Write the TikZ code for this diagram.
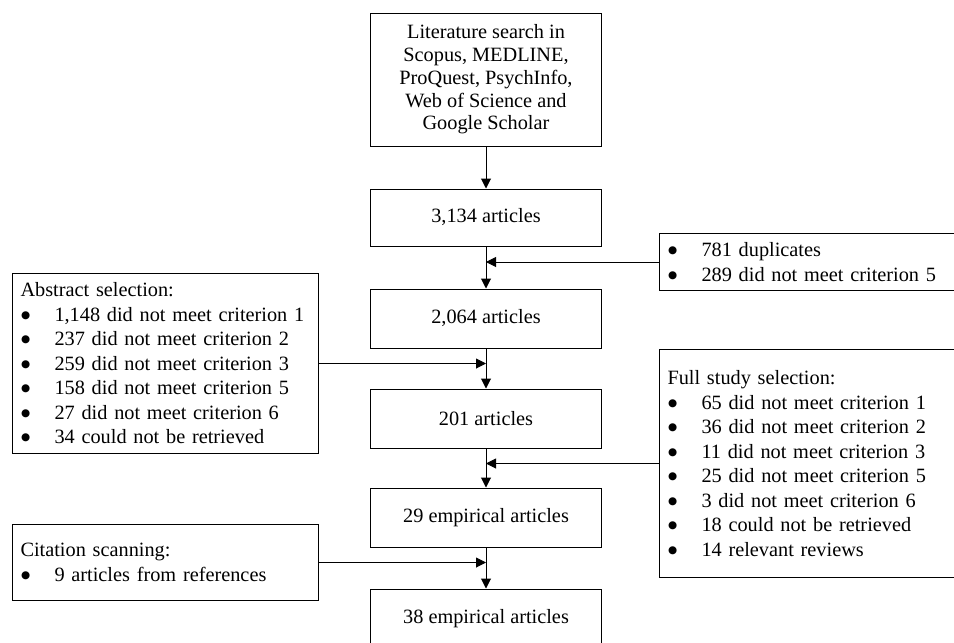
\documentclass[tikz,border=0pt]{standalone}
\usepackage{fontspec}
\setmainfont{Liberation Serif}
\newfontfamily\dotfont{DejaVu Sans}
\usetikzlibrary{arrows.meta,positioning}
\newcommand{\blt}[1]{\makebox[34pt][l]{\hspace{0.5pt}\raisebox{3pt}{\dotfont\fontsize{10.5}{10.5}\selectfont ●}}#1}

\begin{document}
\begin{tikzpicture}[x=1pt, y=-1pt,
    box/.style={draw, line width=1pt, minimum width=231pt, minimum height=58pt,
          align=center, inner sep=0pt, font=\fontsize{20.3}{24.5}\selectfont},
    side/.style={draw, line width=1pt, anchor=north west, align=left,
          inner xsep=8pt, inner ysep=0pt, font=\fontsize{20.3}{24.5}\selectfont},
    arr/.style={line width=1pt, -{Triangle[length=10pt,width=10pt]}}]
    \useasboundingbox (0,0) rectangle (954,643);
    \clip (0,0) rectangle (954,643);
    % main column
    \node[box, minimum height=133pt, font=\fontsize{20.3}{22.7}\selectfont] (search) at (486,79.5)
         {Literature search in\\ Scopus, MEDLINE,\\ ProQuest, PsychInfo,\\ Web of Science and\\ Google Scholar};
    \node[box, minimum height=57pt] (n3134) at (486,217.5) {3,134 articles};
    \node[box, minimum height=59pt] (n2064) at (486,318.5) {2,064 articles};
    \node[box, minimum height=59pt] (n201) at (486,418.5) {201 articles};
    \node[box, minimum height=59pt] (n29) at (486,517.5) {29 empirical articles};
    \node[box, minimum height=59pt] (n38) at (486,618.5) {38 empirical articles};
    % exclusions
    \node[side, text width=294pt, minimum height=57pt] (dup) at (659,233)
         {\blt{781 duplicates}\\ \blt{289 did not meet criterion 5}};
    \node[side, text width=290pt, minimum height=180pt] (abstr) at (12,273)
         {Abstract selection:\\ \blt{1,148 did not meet criterion 1}\\ \blt{237 did not meet criterion 2}\\
          \blt{259 did not meet criterion 3}\\ \blt{158 did not meet criterion 5}\\
          \blt{27 did not meet criterion 6}\\ \blt{34 could not be retrieved}};
    \node[side, text width=294pt, minimum height=228pt] (full) at (659,349)
         {Full study selection:\\ \blt{65 did not meet criterion 1}\\ \blt{36 did not meet criterion 2}\\
          \blt{11 did not meet criterion 3}\\ \blt{25 did not meet criterion 5}\\
          \blt{3 did not meet criterion 6}\\ \blt{18 could not be retrieved}\\ \blt{14 relevant reviews}};
    \node[side, text width=290pt, minimum height=76pt] (cite) at (12,524)
         {Citation scanning:\\ \blt{9 articles from references}};
    % arrows
    \draw[arr] (search) -- (n3134);
    \draw[arr] (n3134) -- (n2064);
    \draw[arr] (n2064) -- (n201);
    \draw[arr] (n201) -- (n29);
    \draw[arr] (n29) -- (n38);
    \draw[arr] (dup.west) -- (dup.west -| n3134.south);
    \draw[arr] (abstr.east) -- (abstr.east -| n2064.south);
    \draw[arr] (full.west) -- (full.west -| n201.south);
    \draw[arr] (cite.east) -- (cite.east -| n29.south);
\end{tikzpicture}
\end{document}
